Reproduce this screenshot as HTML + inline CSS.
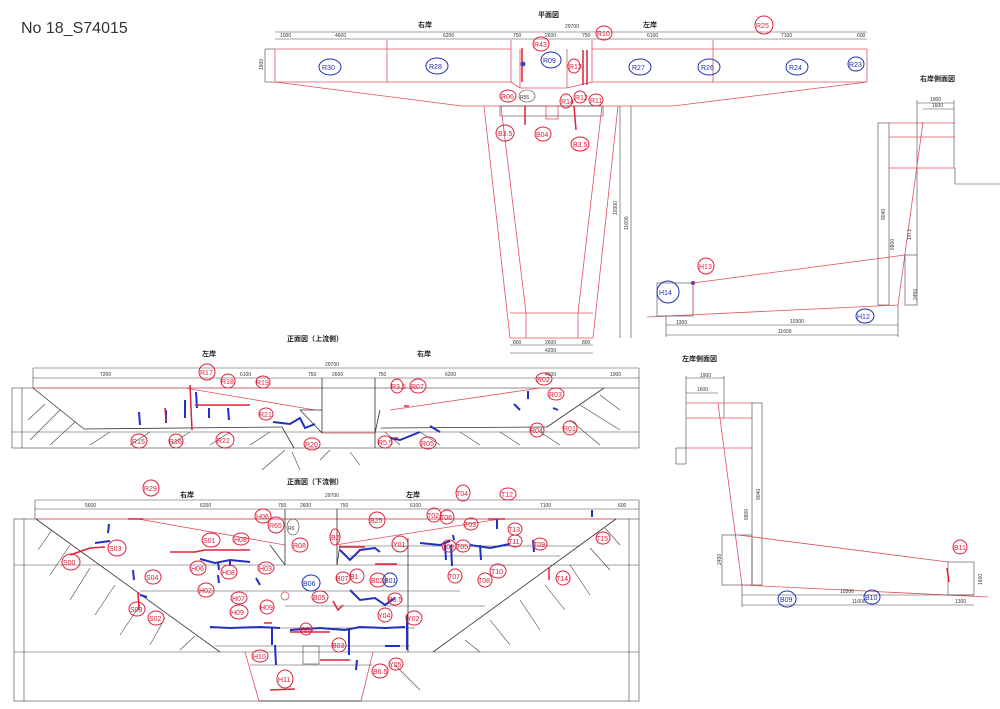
<!DOCTYPE html>
<html><head><meta charset="utf-8"><style>
html,body{margin:0;padding:0;background:#fff;}
svg{display:block;font-family:"Liberation Sans","Noto Sans CJK JP",sans-serif;}
.k{stroke:#333;stroke-width:0.8;fill:none}
.kt{stroke:#444;stroke-width:0.6;fill:none}
.r{stroke:#e05060;stroke-width:0.8;fill:none}
.d{font-size:5px;fill:#333}
.t{font-size:7px;fill:#222;font-weight:bold}
.cr{stroke:#e0203a;stroke-width:1;fill:none}
.cb{stroke:#2030b0;stroke-width:1;fill:none}
.lr{font-size:7px;fill:#e0203a}
.lb{font-size:7px;fill:#2030b0}
.bb{stroke:#2030c0;stroke-width:2;fill:none}
.rr{stroke:#e0203a;stroke-width:1.5;fill:none}
</style></head><body>
<svg width="1000" height="709" viewBox="0 0 1000 709" xmlns="http://www.w3.org/2000/svg">
<rect width="1000" height="709" fill="#fff"/>
<text x="21" y="33" font-size="16" fill="#333">No 18_S74015</text>

<!-- PLAN VIEW -->
<text x="538" y="17" class="t">平面図</text>
<text x="418" y="27" class="t">右岸</text>
<text x="643" y="27" class="t">左岸</text>
<text x="565" y="28" class="d">29700</text>
<line x1="275" y1="32" x2="867" y2="32" class="kt"/>
<line x1="275" y1="39" x2="867" y2="39" class="kt"/>
<g class="d"><text x="280" y="37">1000</text><text x="335" y="37">4600</text><text x="443" y="37">6200</text><text x="513" y="37">750</text><text x="545" y="37">2600</text><text x="582" y="37">750</text><text x="647" y="37">6100</text><text x="781" y="37">7100</text><text x="857" y="37">600</text></g>
<line x1="265" y1="49" x2="275" y2="49" class="kt"/><line x1="265" y1="82" x2="275" y2="82" class="kt"/><line x1="265" y1="49" x2="265" y2="82" class="kt"/>
<line x1="275" y1="49" x2="511" y2="49" class="r"/><line x1="592" y1="49" x2="867" y2="49" class="r"/>
<line x1="275" y1="82" x2="511" y2="82" class="r"/><line x1="592" y1="82" x2="867" y2="82" class="r"/>
<line x1="275" y1="49" x2="275" y2="82" class="r"/><line x1="867" y1="49" x2="867" y2="82" class="r"/>
<line x1="387" y1="40" x2="387" y2="82" class="r"/><line x1="713" y1="40" x2="713" y2="82" class="r"/>
<line x1="511" y1="40" x2="511" y2="82" class="r"/><line x1="592" y1="40" x2="592" y2="82" class="r"/>
<line x1="520" y1="49" x2="520" y2="88" class="r"/><line x1="567" y1="49" x2="567" y2="88" class="r"/>
<line x1="520" y1="88" x2="567" y2="88" class="r"/>
<line x1="275" y1="82" x2="462" y2="106" class="r"/><line x1="867" y1="82" x2="673" y2="106" class="r"/>
<line x1="462" y1="106" x2="673" y2="106" class="r"/>
<line x1="511" y1="82" x2="520" y2="88" class="r"/><line x1="592" y1="82" x2="567" y2="88" class="r"/>
<rect x="500" y="106" width="103" height="10" class="kt"/>
<line x1="484" y1="106" x2="510" y2="338" class="r"/><line x1="501" y1="106" x2="526" y2="313" class="r"/>
<line x1="602" y1="106" x2="578" y2="313" class="r"/><line x1="618" y1="106" x2="593" y2="338" class="r"/>
<line x1="510" y1="313" x2="593" y2="313" class="r"/><line x1="510" y1="338" x2="593" y2="338" class="r"/>
<line x1="526" y1="313" x2="526" y2="338" class="r"/><line x1="578" y1="313" x2="578" y2="338" class="r"/>
<line x1="620" y1="106" x2="620" y2="338" class="kt"/><line x1="631" y1="106" x2="631" y2="338" class="kt"/>
<line x1="510" y1="345" x2="593" y2="345" class="kt"/><line x1="510" y1="353" x2="593" y2="353" class="kt"/>
<g class="d"><text x="513" y="344">800</text><text x="545" y="344">2600</text><text x="582" y="344">800</text><text x="545" y="352">4200</text></g>
<text class="d" transform="translate(617,215) rotate(-90)">10300</text>
<text class="d" transform="translate(628,230) rotate(-90)">11600</text>
<text class="d" transform="translate(263,70) rotate(-90)">1600</text>

<!-- plan annotations -->
<g>
<ellipse cx="330" cy="67" rx="11" ry="8" class="cb"/><text x="322" y="70" class="lb">R30</text>
<ellipse cx="437" cy="66" rx="11" ry="8" class="cb"/><text x="429" y="69" class="lb">R28</text>
<ellipse cx="551" cy="60" rx="10" ry="8" class="cb"/><text x="543" y="63" class="lb">R09</text>
<ellipse cx="640" cy="67" rx="11" ry="8" class="cb"/><text x="632" y="70" class="lb">R27</text>
<ellipse cx="709" cy="67" rx="11" ry="8" class="cb"/><text x="701" y="70" class="lb">R26</text>
<ellipse cx="797" cy="67" rx="11" ry="8" class="cb"/><text x="789" y="70" class="lb">R24</text>
<ellipse cx="856" cy="64" rx="8" ry="7" class="cb"/><text x="849" y="67" class="lb">R23</text>
<ellipse cx="764" cy="25" rx="9" ry="9" class="cr"/><text x="756" y="28" class="lr">R25</text>
<ellipse cx="604" cy="33" rx="8" ry="7" class="cr"/><text x="597" y="36" class="lr">R10</text>
<ellipse cx="541" cy="44" rx="8" ry="7" class="cr"/><text x="534" y="47" class="lr">R43</text>
<ellipse cx="574" cy="66" rx="6" ry="7" class="cr"/><text x="569" y="69" class="lr">R13</text>
<ellipse cx="508" cy="96" rx="8" ry="6" class="cr"/><text x="501" y="99" class="lr">R06</text>
<ellipse cx="527" cy="96" rx="8" ry="6" class="kt"/><text x="520" y="99" class="d">R55</text>
<ellipse cx="566" cy="101" rx="6" ry="7" class="cr"/><text x="561" y="104" class="lr">R14</text>
<ellipse cx="580" cy="97" rx="6" ry="6" class="cr"/><text x="575" y="100" class="lr">R12</text>
<ellipse cx="596" cy="100" rx="7" ry="6" class="cr"/><text x="590" y="103" class="lr">R11</text>
<ellipse cx="505" cy="133" rx="9" ry="8" class="cr"/><text x="498" y="136" class="lr">B3.5</text>
<ellipse cx="543" cy="134" rx="8" ry="7" class="cr"/><text x="536" y="137" class="lr">B04</text>
<ellipse cx="580" cy="144" rx="9" ry="7" class="cr"/><text x="573" y="147" class="lr">B3.5</text>
<line x1="522" y1="48" x2="522" y2="82" class="rr"/><line x1="583" y1="50" x2="583" y2="85" class="rr"/><line x1="587" y1="50" x2="587" y2="85" class="rr"/>
<line x1="525" y1="106" x2="525" y2="125" class="rr"/><line x1="574" y1="106" x2="576" y2="130" class="rr"/>
<rect x="546" y="106" width="12" height="13" class="r"/>
<circle cx="523" cy="64" r="2.5" fill="#4040c0"/>
</g>

<!-- RIGHT BANK SIDE VIEW -->
<text x="920" y="81" class="t">右岸側面図</text>
<line x1="917" y1="103" x2="954" y2="103" class="kt"/><line x1="923" y1="109" x2="954" y2="109" class="kt"/>
<line x1="917" y1="100" x2="917" y2="255" class="kt"/><line x1="954" y1="100" x2="954" y2="168" class="kt"/>
<text x="930" y="101" class="d">1900</text><text x="932" y="107" class="d">1600</text>
<rect x="878" y="123" width="11" height="182" class="kt"/>
<line x1="889" y1="123" x2="955" y2="123" class="r"/><line x1="889" y1="137" x2="955" y2="137" class="r"/><line x1="889" y1="168" x2="955" y2="168" class="r"/>
<line x1="955" y1="168" x2="955" y2="184" class="kt"/><line x1="955" y1="184" x2="1000" y2="184" class="kt"/>
<line x1="923" y1="122" x2="898" y2="305" class="r"/>
<line x1="647" y1="317" x2="898" y2="305" class="r"/><line x1="693" y1="283" x2="905" y2="255" class="r"/>
<rect x="905" y="255" width="12" height="50" class="kt"/>
<rect x="657" y="283" width="36" height="33" class="kt"/>
<line x1="693" y1="283" x2="693" y2="316" class="r"/>
<line x1="666" y1="325" x2="898" y2="325" class="kt"/><line x1="666" y1="335" x2="898" y2="335" class="kt"/>
<line x1="666" y1="316" x2="666" y2="337" class="kt"/><line x1="898" y1="305" x2="898" y2="337" class="kt"/>
<text x="676" y="324" class="d">1300</text><text x="790" y="323" class="d">10300</text><text x="778" y="333" class="d">11600</text>
<text class="d" transform="translate(885,220) rotate(-90)">9040</text>
<text class="d" transform="translate(894,250) rotate(-90)">6800</text>
<text class="d" transform="translate(917,300) rotate(-90)">2450</text>
<text class="d" transform="translate(911,240) rotate(-90)">1/0.1</text>
<ellipse cx="706" cy="266" rx="8" ry="8" class="cr"/><text x="699" y="269" class="lr">H13</text>
<circle cx="693" cy="283" r="2" fill="#8030a0"/>
<ellipse cx="668" cy="292" rx="11" ry="11" class="cb"/><text x="659" y="295" class="lb">H14</text>
<ellipse cx="865" cy="316" rx="9" ry="7" class="cb"/><text x="857" y="319" class="lb">H12</text>

<!-- LEFT BANK SIDE VIEW -->
<text x="682" y="361" class="t">左岸側面図</text>
<line x1="686" y1="378" x2="724" y2="378" class="kt"/><line x1="686" y1="393" x2="718" y2="393" class="kt"/>
<text x="700" y="377" class="d">1900</text><text x="697" y="391" class="d">1600</text>
<line x1="686" y1="376" x2="686" y2="448" class="kt"/><line x1="724" y1="376" x2="724" y2="418" class="kt"/>
<line x1="686" y1="448" x2="676" y2="448" class="kt"/><line x1="676" y1="448" x2="676" y2="464" class="kt"/><line x1="676" y1="464" x2="686" y2="464" class="kt"/><line x1="686" y1="448" x2="686" y2="464" class="kt"/>
<line x1="686" y1="403" x2="752" y2="403" class="r"/><line x1="686" y1="418" x2="752" y2="418" class="r"/><line x1="686" y1="448" x2="752" y2="448" class="r"/>
<rect x="752" y="403" width="10" height="182" class="kt"/>
<line x1="718" y1="403" x2="742" y2="585" class="r"/>
<rect x="722" y="535" width="30" height="50" class="kt"/>
<line x1="738" y1="535" x2="948" y2="562" class="r"/><line x1="742" y1="585" x2="988" y2="597" class="r"/>
<rect x="948" y="562" width="26" height="33" class="kt"/>
<line x1="742" y1="595" x2="974" y2="595" class="kt"/><line x1="742" y1="605" x2="974" y2="605" class="kt"/>
<line x1="742" y1="585" x2="742" y2="607" class="kt"/>
<text x="840" y="593" class="d">10300</text><text x="852" y="603" class="d">11600</text><text x="955" y="603" class="d">1300</text>
<text class="d" transform="translate(760,500) rotate(-90)">9040</text>
<text class="d" transform="translate(748,520) rotate(-90)">6800</text>
<text class="d" transform="translate(721,565) rotate(-90)">2450</text>
<text class="d" transform="translate(982,585) rotate(-90)">1600</text>
<ellipse cx="960" cy="547" rx="7" ry="7" class="cr"/><text x="954" y="550" class="lr">B11</text>
<line x1="947" y1="568" x2="949" y2="582" class="rr"/>
<ellipse cx="787" cy="599" rx="9" ry="8" class="cb"/><text x="780" y="602" class="lb">B09</text>
<ellipse cx="872" cy="597" rx="8" ry="7" class="cb"/><text x="865" y="600" class="lb">B10</text>

<!-- FRONT VIEW UPSTREAM -->
<text x="287" y="341" class="t">正面図（上流側）</text>
<text x="202" y="356" class="t">左岸</text>
<text x="417" y="356" class="t">右岸</text>
<line x1="33" y1="368" x2="639" y2="368" class="kt"/><line x1="33" y1="378" x2="639" y2="378" class="kt"/>
<text x="325" y="366" class="d">29700</text>
<g class="d"><text x="100" y="376">7200</text><text x="240" y="376">6100</text><text x="308" y="376">750</text><text x="332" y="376">2600</text><text x="378" y="376">750</text><text x="445" y="376">6200</text><text x="545" y="376">4600</text><text x="610" y="376">1000</text></g>
<line x1="33" y1="368" x2="33" y2="388" class="kt"/><line x1="639" y1="368" x2="639" y2="388" class="kt"/>
<rect x="12" y="388" width="627" height="60" class="kt"/>
<line x1="22" y1="388" x2="22" y2="448" class="kt"/>
<line x1="33" y1="388" x2="322" y2="388" class="r"/>
<line x1="33" y1="388" x2="84" y2="429" class="k"/><line x1="84" y1="429" x2="282" y2="427" class="k"/>
<line x1="282" y1="427" x2="294" y2="448" class="k"/>
<line x1="12" y1="432" x2="639" y2="432" class="kt"/>
<line x1="604" y1="388" x2="547" y2="427" class="k"/><line x1="547" y1="427" x2="380" y2="428" class="k"/>
<line x1="322" y1="378" x2="322" y2="433" class="k"/><line x1="375" y1="378" x2="375" y2="448" class="k"/>
<line x1="322" y1="433" x2="375" y2="433" class="r"/>
<line x1="185" y1="388" x2="315" y2="410" class="r"/><line x1="390" y1="410" x2="540" y2="388" class="r"/>
<line x1="300" y1="410" x2="322" y2="410" class="k"/><line x1="300" y1="410" x2="322" y2="433" class="k"/>
<line x1="380" y1="410" x2="375" y2="433" class="k"/>
<g class="kt"><line x1="28" y1="420" x2="45" y2="404"/><line x1="30" y1="440" x2="60" y2="410"/><line x1="50" y1="445" x2="75" y2="422"/><line x1="90" y1="445" x2="110" y2="432"/><line x1="130" y1="445" x2="150" y2="432"/><line x1="170" y1="445" x2="190" y2="432"/><line x1="210" y1="445" x2="230" y2="432"/><line x1="250" y1="445" x2="270" y2="432"/>
<line x1="620" y1="410" x2="600" y2="395"/><line x1="620" y1="430" x2="580" y2="405"/><line x1="600" y1="445" x2="570" y2="420"/><line x1="560" y1="445" x2="540" y2="432"/><line x1="520" y1="445" x2="500" y2="432"/><line x1="480" y1="445" x2="460" y2="432"/><line x1="440" y1="445" x2="420" y2="432"/><line x1="400" y1="445" x2="385" y2="432"/>
<line x1="262" y1="470" x2="285" y2="450"/><line x1="300" y1="470" x2="292" y2="452"/><line x1="320" y1="460" x2="330" y2="450"/><line x1="360" y1="465" x2="350" y2="452"/></g>
<!-- damages upstream -->
<g class="bb"><line x1="139" y1="412" x2="140" y2="425"/><line x1="166" y1="410" x2="166" y2="423"/><line x1="185" y1="400" x2="185" y2="418"/><line x1="196" y1="392" x2="197" y2="408"/><line x1="209" y1="408" x2="209" y2="418"/><line x1="228" y1="408" x2="229" y2="420"/><path d="M273 422 L290 424 L300 418 L305 428 L315 424"/><path d="M390 438 L400 440 L410 436 L420 432"/><path d="M430 426 L440 432"/><line x1="528" y1="391" x2="528" y2="399"/><line x1="514" y1="404" x2="520" y2="410"/><path d="M553 408 L558 410"/></g>
<g class="rr"><line x1="190" y1="385" x2="192" y2="430"/><line x1="165" y1="408" x2="166" y2="422"/><line x1="195" y1="405" x2="250" y2="405"/><line x1="393" y1="438" x2="398" y2="438"/><line x1="404" y1="406" x2="409" y2="406"/></g>
<g>
<ellipse cx="207" cy="372" rx="8" ry="8" class="cr"/><text x="200" y="375" class="lr">R17</text>
<ellipse cx="228" cy="381" rx="7" ry="7" class="cr"/><text x="221" y="384" class="lr">R18</text>
<ellipse cx="263" cy="382" rx="7" ry="6" class="cr"/><text x="256" y="385" class="lr">R19</text>
<ellipse cx="266" cy="414" rx="7" ry="6" class="cr"/><text x="259" y="417" class="lr">R21</text>
<ellipse cx="139" cy="441" rx="8" ry="7" class="cr"/><text x="132" y="444" class="lr">R15</text>
<ellipse cx="176" cy="441" rx="7" ry="7" class="cr"/><text x="169" y="444" class="lr">R16</text>
<ellipse cx="225" cy="440" rx="9" ry="8" class="cr"/><text x="217" y="443" class="lr">R22</text>
<ellipse cx="312" cy="444" rx="8" ry="6" class="cr"/><text x="305" y="447" class="lr">R20</text>
<ellipse cx="397" cy="386" rx="6" ry="7" class="cr"/><text x="391" y="389" class="lr">R3.5</text>
<ellipse cx="418" cy="386" rx="8" ry="7" class="cr"/><text x="411" y="389" class="lr">R07</text>
<ellipse cx="385" cy="442" rx="7" ry="6" class="cr"/><text x="378" y="445" class="lr">R5.5</text>
<ellipse cx="428" cy="443" rx="8" ry="6" class="cr"/><text x="421" y="446" class="lr">R05</text>
<ellipse cx="544" cy="379" rx="8" ry="6" class="cr"/><text x="537" y="382" class="lr">R02</text>
<ellipse cx="556" cy="394" rx="8" ry="6" class="cr"/><text x="549" y="397" class="lr">R03</text>
<ellipse cx="537" cy="430" rx="7" ry="7" class="cr"/><text x="530" y="433" class="lr">R04</text>
<ellipse cx="570" cy="428" rx="7" ry="7" class="cr"/><text x="563" y="431" class="lr">R01</text>
</g>

<!-- FRONT VIEW DOWNSTREAM -->
<text x="287" y="484" class="t">正面図（下流側）</text>
<text x="180" y="497" class="t">右岸</text>
<text x="406" y="497" class="t">左岸</text>
<line x1="35" y1="500" x2="639" y2="500" class="kt"/><line x1="35" y1="509" x2="639" y2="509" class="kt"/>
<text x="325" y="497" class="d">29700</text>
<g class="d"><text x="85" y="507">5600</text><text x="200" y="507">6200</text><text x="278" y="507">750</text><text x="300" y="507">2600</text><text x="340" y="507">750</text><text x="410" y="507">6100</text><text x="540" y="507">7100</text><text x="618" y="507">600</text></g>
<line x1="35" y1="500" x2="35" y2="519" class="kt"/><line x1="639" y1="500" x2="639" y2="519" class="kt"/>
<rect x="14" y="519" width="625" height="182" class="kt"/>
<line x1="24" y1="519" x2="24" y2="701" class="kt"/><line x1="629" y1="519" x2="629" y2="701" class="kt"/>
<line x1="36" y1="519" x2="616" y2="519" class="r"/>
<line x1="36" y1="519" x2="220" y2="652" class="k"/><line x1="616" y1="519" x2="433" y2="652" class="k"/>
<line x1="14" y1="565" x2="639" y2="565" class="kt"/><line x1="14" y1="652" x2="639" y2="652" class="kt"/>
<line x1="140" y1="591" x2="460" y2="591" class="kt"/><line x1="285" y1="606" x2="485" y2="606" class="kt"/>
<line x1="210" y1="628" x2="415" y2="628" class="kt"/><line x1="215" y1="646" x2="410" y2="646" class="kt"/>
<line x1="340" y1="546" x2="580" y2="546" class="kt"/><line x1="350" y1="556" x2="560" y2="556" class="kt"/>
<line x1="245" y1="652" x2="259" y2="701" class="r"/><line x1="373" y1="652" x2="361" y2="701" class="r"/>
<line x1="259" y1="701" x2="361" y2="701" class="k"/><line x1="250" y1="665" x2="372" y2="665" class="kt"/>
<line x1="138" y1="519" x2="285" y2="545" class="r"/><line x1="335" y1="545" x2="500" y2="519" class="r"/>
<line x1="285" y1="509" x2="285" y2="565" class="k"/><line x1="337" y1="509" x2="337" y2="565" class="k"/>
<line x1="408" y1="538" x2="408" y2="652" class="k"/>
<line x1="270" y1="545" x2="285" y2="565" class="k"/><line x1="340" y1="545" x2="337" y2="565" class="k"/>
<g class="kt"><line x1="38" y1="550" x2="52" y2="530"/><line x1="50" y1="575" x2="70" y2="545"/><line x1="70" y1="600" x2="90" y2="568"/><line x1="95" y1="615" x2="115" y2="585"/><line x1="120" y1="635" x2="140" y2="605"/><line x1="150" y1="645" x2="165" y2="618"/><line x1="180" y1="650" x2="195" y2="636"/>
<line x1="620" y1="545" x2="605" y2="528"/><line x1="610" y1="570" x2="590" y2="548"/><line x1="590" y1="595" x2="570" y2="565"/><line x1="565" y1="610" x2="545" y2="585"/><line x1="540" y1="630" x2="520" y2="600"/><line x1="510" y1="645" x2="490" y2="620"/><line x1="480" y1="652" x2="465" y2="640"/>
<line x1="395" y1="665" x2="420" y2="690"/></g>
<rect x="303" y="646" width="16" height="18" class="kt"/>
<circle cx="285" cy="596" r="4" class="r"/>
<!-- damages downstream -->
<g class="bb">
<line x1="109" y1="524" x2="108" y2="533"/><path d="M95 543 L110 541"/><line x1="133" y1="570" x2="134" y2="580"/><path d="M140 595 L147 597"/>
<path d="M200 559 L215 563 L230 560 L250 562"/><line x1="230" y1="560" x2="230" y2="566"/><line x1="218" y1="562" x2="219" y2="570"/>
<line x1="256" y1="578" x2="260" y2="585"/><line x1="218" y1="575" x2="219" y2="583"/>
<path d="M210 627 L230 628 L260 627 L280 628"/><line x1="272" y1="627" x2="272" y2="645"/>
<path d="M290 630 L320 628 L345 630 L360 627 L385 628 L405 627"/><line x1="349" y1="628" x2="349" y2="655"/><line x1="407" y1="615" x2="407" y2="650"/>
<path d="M340 550 L350 560 L360 550 L375 548 L380 552"/><path d="M350 590 L360 600 L375 598 L385 605 L395 598"/>
<line x1="275" y1="645" x2="276" y2="665"/><line x1="357" y1="660" x2="356" y2="670"/><line x1="385" y1="646" x2="400" y2="646"/>
<path d="M420 543 L440 545 L450 541"/><line x1="445" y1="545" x2="446" y2="560"/><line x1="451" y1="545" x2="452" y2="566"/>
<path d="M470 545 L490 548 L510 544"/><line x1="480" y1="545" x2="481" y2="560"/><line x1="497" y1="519" x2="497" y2="529"/><line x1="533" y1="540" x2="534" y2="552"/>
<line x1="592" y1="510" x2="592" y2="517"/><line x1="453" y1="535" x2="454" y2="540"/>
</g>
<g class="rr">
<line x1="128" y1="519" x2="143" y2="519"/><path d="M70 555 L90 548 L105 547"/><path d="M170 552 L195 552 L205 550 L250 550"/>
<line x1="138" y1="592" x2="139" y2="610"/><line x1="264" y1="623" x2="272" y2="623"/><path d="M290 632 L330 632"/><line x1="320" y1="660" x2="350" y2="660"/>
<path d="M270 690 L295 689"/><line x1="340" y1="547" x2="365" y2="547"/><line x1="375" y1="564" x2="397" y2="564"/><line x1="488" y1="519" x2="505" y2="519"/><line x1="549" y1="567" x2="549" y2="580"/>
<path d="M333 601 L338 610 L343 605"/>
</g>
<g>
<ellipse cx="151" cy="488" rx="8" ry="8" class="cr"/><text x="144" y="491" class="lr">R29</text>
<ellipse cx="71" cy="562" rx="9" ry="8" class="cr"/><text x="63" y="565" class="lr">S00</text>
<ellipse cx="117" cy="548" rx="9" ry="8" class="cr"/><text x="109" y="551" class="lr">S03</text>
<ellipse cx="211" cy="540" rx="9" ry="7" class="cr"/><text x="203" y="543" class="lr">S01</text>
<ellipse cx="153" cy="577" rx="8" ry="7" class="cr"/><text x="146" y="580" class="lr">S04</text>
<ellipse cx="137" cy="609" rx="8" ry="7" class="cr"/><text x="130" y="612" class="lr">S03</text>
<ellipse cx="156" cy="618" rx="8" ry="7" class="cr"/><text x="149" y="621" class="lr">S02</text>
<ellipse cx="241" cy="539" rx="8" ry="6" class="cr"/><text x="234" y="542" class="lr">H08</text>
<ellipse cx="263" cy="516" rx="8" ry="7" class="cr"/><text x="256" y="519" class="lr">H06</text>
<ellipse cx="276" cy="525" rx="8" ry="8" class="cr"/><text x="269" y="528" class="lr">R65</text>
<ellipse cx="293" cy="527" rx="6" ry="8" class="kt"/><text x="288" y="530" class="d">R6</text>
<ellipse cx="300" cy="545" rx="8" ry="7" class="cr"/><text x="293" y="548" class="lr">R08</text>
<ellipse cx="198" cy="568" rx="8" ry="7" class="cr"/><text x="191" y="571" class="lr">H06</text>
<ellipse cx="229" cy="572" rx="8" ry="7" class="cr"/><text x="222" y="575" class="lr">H08</text>
<ellipse cx="206" cy="590" rx="8" ry="7" class="cr"/><text x="199" y="593" class="lr">H02</text>
<ellipse cx="266" cy="568" rx="8" ry="6" class="cr"/><text x="259" y="571" class="lr">H03</text>
<ellipse cx="239" cy="598" rx="8" ry="6" class="cr"/><text x="232" y="601" class="lr">H07</text>
<ellipse cx="239" cy="612" rx="9" ry="7" class="cr"/><text x="231" y="615" class="lr">H09</text>
<ellipse cx="267" cy="607" rx="7" ry="7" class="cr"/><text x="260" y="610" class="lr">H09</text>
<ellipse cx="260" cy="656" rx="8" ry="6" class="cr"/><text x="253" y="659" class="lr">H10</text>
<ellipse cx="285" cy="679" rx="8" ry="9" class="cr"/><text x="278" y="682" class="lr">H11</text>
<ellipse cx="311" cy="583" rx="9" ry="8" class="cb"/><text x="303" y="586" class="lb">B06</text>
<ellipse cx="320" cy="597" rx="8" ry="6" class="cr"/><text x="313" y="600" class="lr">B05</text>
<ellipse cx="306" cy="629" rx="6" ry="6" class="cr"/><text x="301" y="632" class="lr">B04</text>
<ellipse cx="339" cy="645" rx="7" ry="7" class="cr"/><text x="332" y="648" class="lr">B03</text>
<ellipse cx="343" cy="578" rx="7" ry="6" class="cr"/><text x="336" y="581" class="lr">B07</text>
<ellipse cx="357" cy="576" rx="7" ry="7" class="cr"/><text x="350" y="579" class="lr">B1</text>
<ellipse cx="377" cy="520" rx="8" ry="8" class="cr"/><text x="370" y="523" class="lr">B25</text>
<ellipse cx="335" cy="537" rx="5" ry="8" class="cr"/><text x="331" y="540" class="lr">B2</text>
<ellipse cx="378" cy="580" rx="8" ry="7" class="cr"/><text x="371" y="583" class="lr">B02</text>
<ellipse cx="390" cy="580" rx="7" ry="7" class="cb"/><text x="384" y="583" class="lb">B01</text>
<ellipse cx="395" cy="599" rx="7" ry="6" class="cr"/><text x="388" y="602" class="lr">B6.5</text>
<ellipse cx="385" cy="615" rx="7" ry="7" class="cr"/><text x="378" y="618" class="lr">Y04</text>
<ellipse cx="414" cy="618" rx="8" ry="7" class="cr"/><text x="407" y="621" class="lr">Y02</text>
<ellipse cx="400" cy="544" rx="8" ry="8" class="cr"/><text x="393" y="547" class="lr">Y01</text>
<ellipse cx="396" cy="664" rx="7" ry="6" class="cr"/><text x="389" y="667" class="lr">Y05</text>
<ellipse cx="380" cy="671" rx="8" ry="7" class="cr"/><text x="373" y="674" class="lr">B6.5</text>
<ellipse cx="463" cy="493" rx="7" ry="8" class="cr"/><text x="456" y="496" class="lr">T04</text>
<ellipse cx="434" cy="515" rx="7" ry="7" class="cr"/><text x="427" y="518" class="lr">T02</text>
<ellipse cx="447" cy="517" rx="7" ry="7" class="cr"/><text x="440" y="520" class="lr">T06</text>
<ellipse cx="508" cy="494" rx="8" ry="6" class="cr"/><text x="501" y="497" class="lr">T12</text>
<ellipse cx="471" cy="524" rx="7" ry="6" class="cr"/><text x="464" y="527" class="lr">T03</text>
<ellipse cx="515" cy="529" rx="7" ry="6" class="cr"/><text x="508" y="532" class="lr">T13</text>
<ellipse cx="515" cy="541" rx="7" ry="6" class="cr"/><text x="508" y="544" class="lr">T11</text>
<ellipse cx="540" cy="544" rx="7" ry="6" class="cr"/><text x="533" y="547" class="lr">T09</text>
<ellipse cx="603" cy="538" rx="7" ry="6" class="cr"/><text x="596" y="541" class="lr">T15</text>
<ellipse cx="449" cy="546" rx="7" ry="6" class="cr"/><text x="442" y="549" class="lr">T08</text>
<ellipse cx="463" cy="546" rx="7" ry="6" class="cr"/><text x="456" y="549" class="lr">T05</text>
<ellipse cx="455" cy="576" rx="7" ry="7" class="cr"/><text x="448" y="579" class="lr">T07</text>
<ellipse cx="485" cy="580" rx="7" ry="7" class="cr"/><text x="478" y="583" class="lr">T08</text>
<ellipse cx="498" cy="571" rx="8" ry="7" class="cr"/><text x="491" y="574" class="lr">T10</text>
<ellipse cx="563" cy="578" rx="7" ry="7" class="cr"/><text x="556" y="581" class="lr">T14</text>
</g>
</svg>
</body></html>
